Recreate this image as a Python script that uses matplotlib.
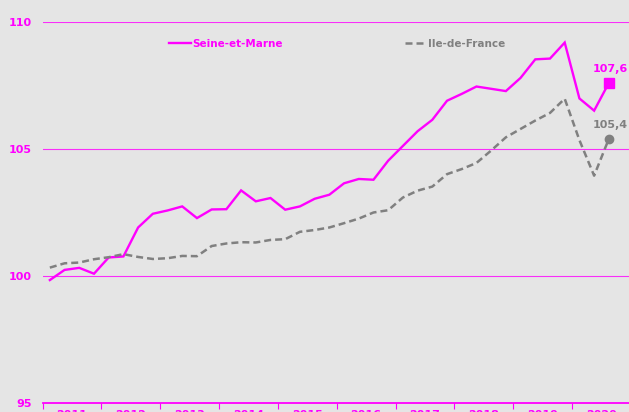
import matplotlib
matplotlib.use("Agg")
import matplotlib.pyplot as plt

# quarterly index, 2011 Q1 -> 2020 Q3
years = ['2011', '2012', '2013', '2014', '2015', '2016', '2017', '2018', '2019', '2020']

seine_et_marne = [99.84, 100.24, 100.32, 100.09, 100.73, 100.77, 101.91, 102.45,
                  102.58, 102.74, 102.28, 102.62, 102.63, 103.37, 102.94, 103.07,
                  102.61, 102.74, 103.04, 103.20, 103.65, 103.82, 103.79, 104.54,
                  105.12, 105.70, 106.15, 106.90, 107.17, 107.46, 107.37, 107.28,
                  107.80, 108.53, 108.56, 109.19, 106.99, 106.51, 107.6]
ile_de_france = [100.33, 100.50, 100.53, 100.66, 100.74, 100.86, 100.75, 100.67,
                 100.70, 100.79, 100.78, 101.18, 101.28, 101.33, 101.32, 101.42,
                 101.45, 101.74, 101.81, 101.91, 102.08, 102.26, 102.50, 102.59,
                 103.09, 103.36, 103.52, 104.01, 104.21, 104.45, 104.94, 105.46,
                 105.79, 106.12, 106.42, 106.98, 105.35, 103.95, 105.4]

MAGENTA = '#ff00ff'
GREY = '#808080'
BG = '#e5e5e5'

W, H = 629, 412
fig = plt.figure(figsize=(W / 100, H / 100), dpi=100, facecolor=BG)
left, right = 42.5, 630.9
ax = fig.add_axes([left / W, 9 / H, (right - left) / W, (403 - 22) / H])
ax.set_facecolor(BG)

x = [i + 0.5 for i in range(len(seine_et_marne))]
ax.plot(x, seine_et_marne, color=MAGENTA, lw=1.7, label='Seine-et-Marne',
        solid_joinstyle='miter')
ax.plot(x, ile_de_france, color=GREY, lw=1.8, ls=(0, (2.8, 1.6)), label='Ile-de-France')
ax.plot(x[-1], seine_et_marne[-1], marker='s', ms=6.5, color=MAGENTA)
ax.plot(x[-1], ile_de_france[-1], marker='o', ms=6, color=GREY)

ax.annotate('107,6', (x[-1], seine_et_marne[-1]), xytext=(1, 10), textcoords='offset points',
            ha='center', va='center', color=MAGENTA, fontsize=8, fontweight='bold')
ax.annotate('105,4', (x[-1], ile_de_france[-1]), xytext=(1, 10), textcoords='offset points',
            ha='center', va='center', color=GREY, fontsize=8, fontweight='bold')

ax.set_xlim(0, 40)
ax.set_ylim(95, 110)
for v in [100, 105, 110]:
    ax.axhline(v, color=MAGENTA, lw=0.8, alpha=0.8, zorder=0)

for s in ['left', 'right', 'top']:
    ax.spines[s].set_visible(False)
ax.spines['bottom'].set_color(MAGENTA)
ax.spines['bottom'].set_linewidth(1.3)

ax.set_yticks([95, 100, 105, 110])
ax.set_yticklabels(['95', '100', '105', '110'], color=MAGENTA, fontsize=8, fontweight='bold')
ax.tick_params(axis='y', length=0, pad=8)

ax.set_xticks(range(0, 40, 4))
ax.set_xticklabels([])
ax.set_xticks([i * 4 + 2 for i in range(len(years))], minor=True)
ax.set_xticklabels(years, minor=True, color=MAGENTA, fontsize=8, fontweight='bold')
ax.tick_params(axis='x', which='major', length=4, color=MAGENTA, direction='out')
ax.tick_params(axis='x', which='minor', length=0, pad=5)

h1, h2 = ax.get_lines()[:2]
leg1 = fig.legend([h1], ['Seine-et-Marne'], loc='center left', bbox_to_anchor=(169 / W, 1 - 44 / H),
                  frameon=False, handlelength=2.1, handletextpad=0.1, borderpad=0, borderaxespad=0,
                  prop={'weight': 'bold', 'size': 7.5}, labelcolor=MAGENTA)
leg2 = fig.legend([h2], ['Ile-de-France'], loc='center left', bbox_to_anchor=(405 / W, 1 - 44 / H),
                  frameon=False, handlelength=2.1, handletextpad=0.1, borderpad=0, borderaxespad=0,
                  prop={'weight': 'bold', 'size': 7.5}, labelcolor=GREY)

fig.savefig('out.png', dpi=100, facecolor=BG)
